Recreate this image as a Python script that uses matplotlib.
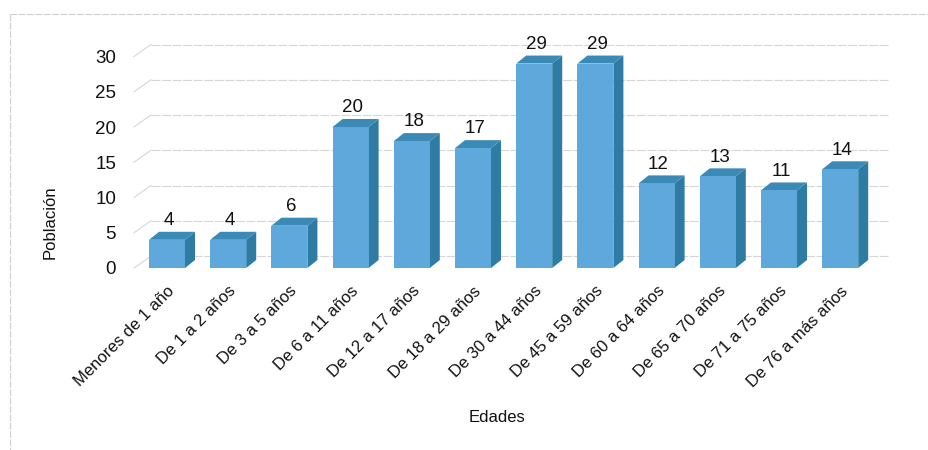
import matplotlib
matplotlib.use("Agg")
import matplotlib.pyplot as plt
from matplotlib import font_manager
from matplotlib.patches import Polygon, Rectangle
from matplotlib.lines import Line2D

categories = ["Menores de 1 año", "De 1 a 2 años", "De 3 a 5 años", "De 6 a 11 años",
              "De 12 a 17 años", "De 18 a 29 años", "De 30 a 44 años", "De 45 a 59 años",
              "De 60 a 64 años", "De 65 a 70 años", "De 71 a 75 años", "De 76 a más años"]
values = [4, 4, 6, 20, 18, 17, 29, 29, 12, 13, 11, 14]
yticks = [0, 5, 10, 15, 20, 25, 30]
ylabel = "Población"
xlabel = "Edades"

names = {f.name for f in font_manager.fontManager.ttflist}
if "Liberation Sans Narrow" in names:
    FAM = ["Liberation Sans Narrow", "DejaVu Sans"]
    FS_TICK, FS_CAT, FS_LAB = 15.5, 14, 14.5
else:
    FAM = ["Liberation Sans", "DejaVu Sans"]
    FS_TICK, FS_CAT, FS_LAB = 13.5, 12, 12
plt.rcParams["font.family"] = FAM

W, H, DPI = 929, 450, 100
fig = plt.figure(figsize=(W / DPI, H / DPI), dpi=DPI)

# pixel geometry
PX_X = 61.2      # px per category
PX_V = 7.05      # px per value unit
X0 = 167         # px of first bar centre
V0 = 268         # px of value 0 (front plane)
ax_l, ax_r, ax_t, ax_b = 130, 900, 30, 275
ax = fig.add_axes([ax_l / W, 1 - ax_b / H, (ax_r - ax_l) / W, (ax_b - ax_t) / H])
ax.set_xlim((ax_l - X0) / PX_X, (ax_r - X0) / PX_X)
ax.set_ylim((V0 - ax_b) / PX_V, (V0 - ax_t) / PX_V)
for s in ax.spines.values():
    s.set_visible(False)

bw = 36 / PX_X                     # front face width
bdx, bdy = 10 / PX_X, 8 / PX_V     # bar depth
wdx, wdy = 17 / PX_X, 12 / PX_V    # wall depth
front_x = (134 - X0) / PX_X
wall_r = (888 - X0) / PX_X

grid_c = "#d6d6d6"
for t in yticks:
    ax.add_line(Line2D([front_x, front_x + wdx], [t, t + wdy], color=grid_c, lw=0.8, zorder=1))
    ax.add_line(Line2D([front_x + wdx, wall_r], [t + wdy, t + wdy], color=grid_c, lw=0.8,
                       ls=(0, (8, 1.5)), zorder=1))

c_front, c_side, c_top = "#5ea8dc", "#2e7ca3", "#3b8ab6"
for i, v in enumerate(values):
    xl, xr = i - bw / 2, i + bw / 2
    ax.add_patch(Polygon([(xr, 0), (xr + bdx, bdy), (xr + bdx, v + bdy), (xr, v)],
                         closed=True, fc=c_side, ec="none", zorder=3))
    ax.add_patch(Polygon([(xl, v), (xl + bdx, v + bdy), (xr + bdx, v + bdy), (xr, v)],
                         closed=True, fc=c_top, ec="none", zorder=3))
    ax.add_patch(Rectangle((xl, 0), bw, v, fc=c_front, ec="none", zorder=4))
    ax.annotate(str(v), (i + 0.03, v + bdy), xytext=(0, 2), textcoords="offset points",
                ha="center", va="bottom", fontsize=FS_TICK, color="#111111", zorder=5)

ax.set_yticks(yticks)
ax.set_yticklabels([str(t) for t in yticks], fontsize=FS_TICK, color="#111111")
ax.tick_params(axis="y", length=0, pad=10)
ax.set_xticks(range(len(categories)))
ax.set_xticklabels(categories, rotation=45, ha="right", va="top",
                   rotation_mode="anchor", fontsize=FS_CAT, color="#111111")
ax.tick_params(axis="x", length=0, pad=6)

fig.text(50 / W, 1 - 222 / H, ylabel, rotation=90, ha="center", va="center",
         fontsize=FS_LAB, color="#111111")
fig.text(497 / W, 1 - 418 / H, xlabel, ha="center", va="center",
         fontsize=FS_LAB, color="#111111")

frame_c = "#cfcfcf"
fig.add_artist(Line2D([10 / W, 1.0], [1 - 14 / H, 1 - 14 / H], transform=fig.transFigure,
                      color=frame_c, lw=0.8, ls=(0, (6, 1.5))))
fig.add_artist(Line2D([10 / W, 10 / W], [1 - 14 / H, 0.0], transform=fig.transFigure,
                      color=frame_c, lw=0.8, ls=(0, (6, 1.5))))

fig.savefig("out.png", dpi=DPI)
